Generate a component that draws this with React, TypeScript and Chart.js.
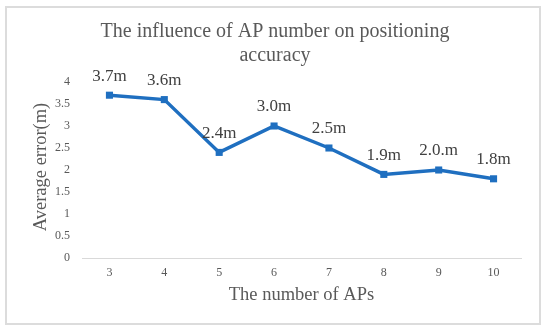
import React, { useEffect, useRef } from 'react';
import { Chart, registerables } from 'chart.js';
Chart.register(...registerables);

const categories = ['3', '4', '5', '6', '7', '8', '9', '10'];
const errors = [3.7, 3.6, 2.4, 3.0, 2.5, 1.9, 2.0, 1.8];
const pointLabels = ['3.7m', '3.6m', '2.4m', '3.0m', '2.5m', '1.9m', '2.0.m', '1.8m'];
const titleLines = ['The influence of AP number on positioning', 'accuracy'];
const xTitle = 'The number of APs';
const yTitle = 'Average error(m)';

const FONT = "'Liberation Serif', 'Times New Roman', serif";
const GREY = '#595959';
const BLUE = '#1f6fc0';

const labelPlugin = {
  id: 'pointValueLabels',
  afterDatasetsDraw(chart: any) {
    const ctx = chart.ctx;
    const meta = chart.getDatasetMeta(0);
    ctx.save();
    ctx.font = `17px ${FONT}`;
    ctx.fillStyle = '#404040';
    ctx.textAlign = 'center';
    ctx.textBaseline = 'middle';
    meta.data.forEach((pt: any, i: number) => {
      ctx.fillText(pointLabels[i], pt.x, pt.y - 19);
    });
    ctx.restore();
  },
};

const titlePlugin = {
  id: 'centeredTitles',
  afterDraw(chart: any) {
    const ctx = chart.ctx;
    ctx.save();
    ctx.font = `20px ${FONT}`;
    ctx.fillStyle = GREY;
    ctx.textAlign = 'center';
    ctx.textBaseline = 'alphabetic';
    titleLines.forEach((line, i) => {
      ctx.fillText(line, chart.width / 2, 37 + i * 23.5);
    });
    // y axis title
    ctx.font = `18.5px ${FONT}`;
    ctx.textBaseline = 'middle';
    ctx.translate(41, 167);
    ctx.rotate(-Math.PI / 2);
    ctx.fillText(yTitle, 0, 0);
    ctx.restore();
  },
};

export default function App() {
  const ref = useRef<HTMLCanvasElement | null>(null);
  useEffect(() => {
    if (!ref.current) return;
    const chart = new Chart(ref.current, {
      type: 'line',
      data: {
        labels: categories,
        datasets: [
          {
            data: errors,
            borderColor: BLUE,
            backgroundColor: BLUE,
            borderWidth: 3.5,
            pointStyle: 'rect',
            pointRadius: 5,
            pointBackgroundColor: BLUE,
            pointBorderColor: BLUE,
            pointBorderWidth: 0,
            tension: 0,
            fill: false,
          },
        ],
      },
      options: {
        responsive: false,
        animation: false,
        layout: { padding: { left: 0, right: 29, top: 82, bottom: 0 } },
        plugins: {
          legend: { display: false },
          tooltip: { enabled: false },
          title: { display: false },
        },
        scales: {
          x: {
            offset: true,
            grid: { display: false, drawTicks: false, offset: true },
            border: { display: true, color: '#d9d9d9', width: 1 },
            ticks: { color: GREY, font: { family: FONT, size: 12 }, padding: 8 },
            title: {
              display: true,
              text: xTitle,
              color: GREY,
              font: { family: FONT, size: 18.5 },
              padding: { top: 0, bottom: 28 },
            },
            afterFit: (s: any) => {
              s.height = 76;
            },
          },
          y: {
            min: 0,
            max: 4,
            grid: { display: false, drawTicks: false },
            border: { display: false },
            ticks: {
              stepSize: 0.5,
              color: GREY,
              font: { family: FONT, size: 12 },
              padding: 12,
              callback: (v: any) => String(Number(v)),
            },
            title: { display: false },
            afterFit: (s: any) => {
              s.width = 82;
            },
          },
        },
      },
      plugins: [labelPlugin, titlePlugin],
    });
    return () => chart.destroy();
  }, []);

  return (
    <div style={{ position: 'fixed', left: 0, top: 0, width: 550, height: 334, background: '#fff' }}>
      <div
        style={{
          position: 'absolute',
          left: 5,
          top: 6,
          width: 536,
          height: 319,
          border: '2px solid #dcdcdc',
          boxSizing: 'border-box',
        }}
      />
      <canvas ref={ref} width={550} height={334} style={{ position: 'absolute', left: 0, top: 0 }} />
    </div>
  );
}
